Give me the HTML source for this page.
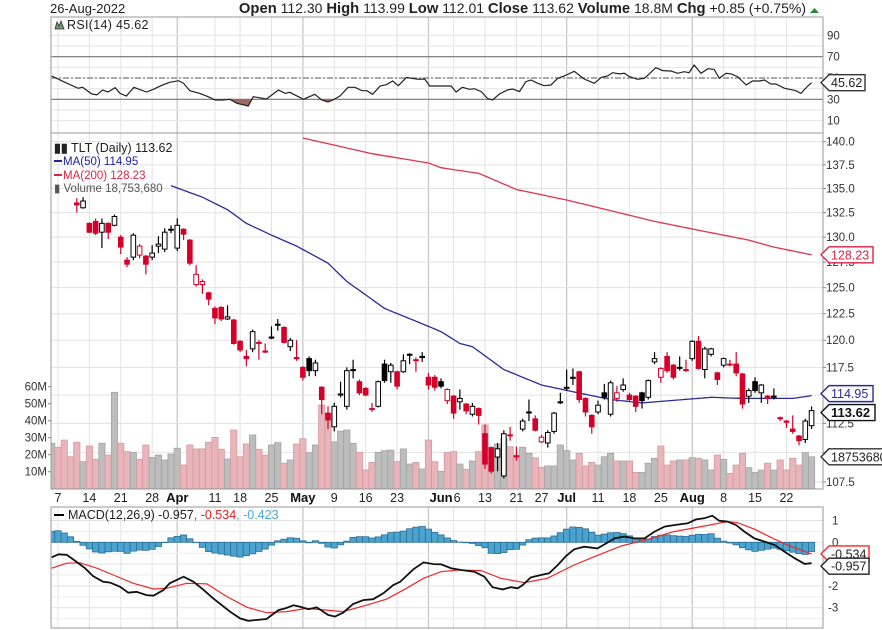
<!DOCTYPE html>
<html><head><meta charset="utf-8"><style>
body{margin:0;background:#fff;}
svg{display:block;font-family:"Liberation Sans",Arial,sans-serif;}
</style></head><body>
<svg id="chart" width="882" height="630" viewBox="0 0 882 630" xmlns="http://www.w3.org/2000/svg">
<rect x="0" y="0" width="882" height="630" fill="#fff"/>
<g id="grid"></g>
<g id="vol"></g>
<g id="price"></g>
<g id="rsi"></g>
<g id="macd"></g>
<g id="axes"></g>
<text x="50" y="13" font-size="13" fill="#222">26-Aug-2022</text>
<text x="806" y="13" font-size="14" text-anchor="end" fill="#222"><tspan font-weight="bold" font-size="14.8">Open</tspan> 112.30  <tspan font-weight="bold" font-size="14.8">High</tspan> 113.99  <tspan font-weight="bold" font-size="14.8">Low</tspan> 112.01  <tspan font-weight="bold" font-size="14.8">Close</tspan> 113.62  <tspan font-weight="bold" font-size="14.8">Volume</tspan> 18.8M  <tspan font-weight="bold" font-size="14.8">Chg</tspan> +0.85 (+0.75%)</text>
<polygon points="810,13 819,13 814.5,8" fill="#2a8a3a"/>
<g>
<path d="M55,29 L57,22 L59,26 L61,21 L64,29 Z" fill="#6a9a6a" stroke="#333" stroke-width="0.8"/>
<text x="67" y="29" font-size="12.5" fill="#222" letter-spacing="0.3">RSI(14) 45.62</text>
</g>
<g>
<text x="54" y="152" font-size="12.5" fill="#222"><tspan font-weight="bold">▮▮</tspan> TLT (Daily) 113.62</text>
<line x1="54" y1="161" x2="62" y2="161" stroke="#22229a" stroke-width="2"/>
<text x="63" y="165" font-size="11.5" fill="#22229a">MA(50) 114.95</text>
<line x1="54" y1="175" x2="62" y2="175" stroke="#dd2244" stroke-width="2"/>
<text x="63" y="179" font-size="11.5" fill="#dd2244">MA(200) 128.23</text>
<text x="54" y="192" font-size="11.5" fill="#555">▮ Volume 18,753,680</text>
</g>
<g>
<line x1="54" y1="515" x2="64" y2="515" stroke="#000" stroke-width="2"/>
<text x="68" y="519" font-size="12.5" fill="#222">MACD(12,26,9) -0.957<tspan fill="#e02020">, -0.534</tspan><tspan fill="#4aa8d8">, -0.423</tspan></text>
</g>
</svg>
<script>
// ---------- DATA ----------
const firstDayIndex = -4;
const opens = [133.5,133.0,131.4,131.6,130.5,131.4,131.2,130.0,127.7,128.0,
128.2,128.1,128.0,129.1,128.8,130.7,128.9,130.8,129.7,125.3,
125.3,124.5,123.0,123.1,122.0,121.9,119.9,118.5,119.2,119.8,
119.0,120.2,121.5,121.2,119.4,118.4,117.5,118.3,117.2,115.7,
113.4,112.2,115.0,114.0,117.3,116.2,115.6,113.8,114.0,117.8,
117.1,117.1,117.1,118.7,118.2,118.5,116.6,116.6,116.2,114.5,
114.9,114.4,114.2,113.3,113.8,111.6,110.4,109.6,108.0,111.5,
109.7,112.0,113.5,112.9,110.9,110.8,111.8,114.4,115.6,116.5,
117.1,114.7,113.2,113.5,115.2,113.3,114.7,115.5,115.0,114.9,
115.2,114.8,118.0,116.6,118.5,117.7,117.5,117.3,118.3,119.9,
117.3,118.7,117.0,117.7,117.8,117.8,116.9,114.9,116.2,115.2,
114.9,114.9,113.0,112.7,112.0,111.4,111.1,112.30];
const highs = [134.0,134.1,131.5,131.9,131.9,131.5,132.3,130.2,128.0,130.4,
129.3,128.2,129.2,130.1,130.9,131.2,131.9,130.9,129.8,127.2,
125.8,124.6,123.2,123.2,123.3,122.0,120.0,119.1,121.0,120.0,
119.7,121.3,122.0,121.3,120.2,120.0,117.6,118.5,118.2,115.8,
114.0,114.3,116.2,117.5,118.2,116.4,115.7,114.3,116.3,118.2,
117.9,117.2,118.7,118.8,118.4,118.9,117.0,116.8,116.5,115.6,
115.0,115.5,114.3,114.3,113.9,112.4,110.5,110.8,111.9,112.2,
110.5,112.9,114.6,113.2,111.5,111.9,113.5,115.2,117.3,117.4,
117.2,114.8,113.3,114.5,116.0,116.3,115.8,116.5,115.2,115.0,
115.3,116.4,118.9,117.5,118.9,117.8,118.5,118.2,120.0,120.4,
119.4,119.3,117.1,118.4,118.2,118.9,117.0,115.6,116.6,116.0,
115.0,115.6,113.1,112.8,113.2,111.5,112.9,113.99];
const lows = [132.5,132.9,130.4,130.2,128.9,129.8,131.1,128.3,127.0,127.7,
127.9,126.3,127.7,128.4,128.5,130.4,128.6,129.7,127.2,125.1,
124.4,123.3,121.5,121.8,121.9,119.6,118.9,117.6,118.9,118.2,
118.8,120.1,120.9,119.7,119.0,118.1,116.3,116.7,116.7,113.3,
112.0,111.8,114.8,113.7,116.5,115.0,114.9,113.5,113.9,116.1,
116.1,115.5,117.0,117.8,117.1,118.0,115.5,115.4,115.6,114.2,
112.9,113.7,113.3,113.1,112.4,108.6,108.2,108.4,107.8,111.0,
109.3,111.8,112.7,111.8,110.8,110.4,111.6,114.2,115.4,115.9,
114.3,113.1,111.6,113.3,114.6,113.1,114.4,115.3,114.4,113.5,
113.8,114.6,117.8,116.1,117.0,116.4,117.2,117.1,118.1,117.3,
116.5,118.5,115.9,117.5,117.6,116.7,113.8,114.3,115.2,114.3,
114.2,114.6,112.7,112.1,111.6,110.6,110.8,112.01];
const closes = [133.3,133.7,130.5,130.4,131.4,130.5,132.1,129.0,127.3,130.2,
129.1,127.3,128.4,129.3,130.5,130.8,131.2,130.3,127.4,126.3,
125.6,123.9,122.1,122.0,122.2,119.7,119.1,118.3,120.8,119.7,
118.9,120.3,121.5,119.8,120.0,118.3,116.6,117.2,117.9,114.6,
112.8,114.0,115.1,117.2,117.2,115.2,115.0,113.8,116.2,116.3,
117.7,115.8,118.1,118.7,118.2,118.4,115.9,115.7,115.8,115.5,
113.4,114.7,113.6,114.0,113.2,109.0,108.4,110.3,111.6,111.5,
109.7,112.7,113.5,111.9,111.3,111.7,113.4,114.4,115.7,116.6,
114.6,113.5,112.2,114.1,114.8,116.1,115.2,115.9,114.6,114.0,
114.5,116.3,118.3,117.4,117.2,116.6,117.5,117.2,119.9,117.4,
119.2,119.2,116.4,118.3,117.8,117.0,114.2,115.4,115.4,115.9,
114.7,114.9,112.9,112.6,111.8,111.0,112.7,113.62];
const prevClose0 = 134.5;
const preVolumes = [26.7,24.4,28.6,18.8];
const preVolDown = [0,1,1,1];
const volumes = [27.3,15.9,25.1,17.3,26.7,19.8,56.7,26.7,21.8,21.2,
17.3,25.7,18.4,19.8,16.9,20.4,23.8,13.9,25.7,23.4,
23.4,27.3,30.2,23.2,17.5,34.5,18.8,26.3,31.6,23.2,
19.8,25.7,27.1,15.0,16.9,26.3,29.4,21.2,25.7,49.2,
43.9,27.6,33.9,34.5,26.7,21.4,11.0,15.5,21.4,22.4,
22.7,15.9,23.4,14.5,15.5,11.6,28.6,15.9,10.2,21.2,
21.8,14.5,11.4,16.3,21.8,37.5,22.4,26.3,29.6,24.7,
19.8,24.4,20.8,18.2,12.6,13.4,13.4,25.7,22.4,16.9,
20.8,13.4,15.5,13.9,18.8,20.8,16.3,16.3,16.3,9.6,
9.6,15.0,17.9,25.1,13.9,16.3,16.9,16.9,18.2,17.9,
16.9,11.0,19.8,17.3,9.0,13.9,20.8,12.4,9.6,11.0,
15.0,11.0,16.9,11.0,17.9,13.9,21.2,18.75];
const ma50Idx = [15,20,24,27,31,35,40,43,49,56,58,61,63,68,74,79,85,90,101,106,114,117];
const ma50Val = [135.3,134.1,132.8,131.4,130.2,129.1,127.4,125.6,123.0,121.3,120.8,119.7,119.4,117.3,115.9,115.3,114.6,114.3,114.8,114.7,114.7,114.95];
const ma200Idx = [36,47,56,58,64,70,78,85,92,99,107,111,117];
const ma200Val = [140.4,138.7,137.7,137.2,136.6,134.9,133.8,132.7,131.6,130.7,129.7,129.0,128.23];
const rsiIdx = [-4,-2.1,0.2,0.9,2.4,3.2,4.1,5.0,6.1,6.9,7.9,9.1,11.1,12.2,13.5,14.8,16.2,17.0,18.0,19.6,20.9,22.0,23.3,24.4,25.5,27.3,28.1,30.2,32.1,33.2,33.9,36.1,37.9,39.0,40.0,40.8,41.9,43.2,44.3,45.4,46.2,47.1,48.3,49.3,50.3,51.2,52.5,53.3,54.4,55.4,56.2,58.0,59.6,60.4,61.4,62.5,63.3,64.4,65.4,66.2,67.3,68.6,69.4,70.5,71.5,72.3,73.4,74.4,75.5,76.6,77.6,79.2,80.8,82.4,83.5,84.5,85.3,86.4,87.2,88.0,89.3,90.4,92.2,93.3,94.6,95.7,96.7,97.5,98.3,99.4,100.5,101.5,102.3,103.4,104.2,105.2,106.6,107.6,108.7,109.5,110.5,111.3,112.7,113.5,114.5,115.3,116.4,117];
const rsiVal = [51.9,46.5,40.3,41.3,35.0,34.1,38.7,36.9,40.9,35.6,33.1,41.3,36.9,39.4,43.1,46.0,47.5,45.0,38.1,35.6,32.5,29.4,29.4,30.0,26.3,23.7,32.5,30.3,38.7,35.6,36.6,30.0,34.7,29.4,27.5,29.4,33.1,41.3,41.3,38.1,38.1,34.7,42.5,43.7,47.2,42.8,50.6,49.7,48.8,49.1,42.5,42.5,42.5,36.9,41.3,39.4,40.0,37.2,30.9,29.4,35.0,38.7,39.7,37.2,46.5,48.1,45.0,42.8,43.4,49.7,51.9,56.3,49.1,45.0,50.6,51.9,55.0,53.8,54.4,51.3,48.8,49.7,59.7,56.9,56.6,54.4,55.9,55.0,62.2,54.4,58.7,58.1,49.7,54.4,53.8,51.3,43.4,47.2,47.2,48.1,44.4,44.4,40.3,39.4,38.1,35.6,42.5,45.62];
const macdIdx = [-4,-2.9,-1.6,-0.3,1.3,2.6,4.2,5.3,6.9,8.2,9.5,11.1,12.2,13.8,14.8,17.0,18.6,20.1,21.7,24.4,26.0,27.3,30.2,32.1,33.2,34.5,35.5,36.9,38.2,40.0,41.1,42.4,44.0,45.6,47.2,48.8,50.4,51.5,53.6,55.2,56.8,58.0,59.6,61.2,63.3,64.9,66.2,67.8,69.1,70.2,71.0,72.3,73.9,75.2,76.6,77.9,79.2,80.8,82.9,84.3,85.6,87.2,88.8,90.4,92.0,93.6,95.1,97.3,98.6,99.9,101.2,102.3,103.6,105.0,106.3,107.9,109.5,111.1,112.7,114.3,115.9,117];
const macdVal = [-0.69,-0.55,-0.58,-0.84,-1.19,-1.55,-1.81,-1.85,-2.04,-2.31,-2.27,-2.42,-2.45,-2.19,-1.88,-1.58,-1.81,-2.16,-2.57,-3.18,-3.49,-3.60,-3.52,-3.11,-3.03,-2.89,-2.95,-3.07,-2.98,-3.33,-3.41,-3.23,-2.83,-2.65,-2.61,-2.34,-1.96,-1.81,-1.24,-0.92,-1.00,-1.01,-1.19,-1.27,-1.35,-1.58,-2.06,-2.16,-2.06,-2.11,-1.96,-1.61,-1.50,-1.42,-1.04,-0.63,-0.32,-0.20,-0.28,-0.05,0.18,0.26,0.18,0.18,0.49,0.72,0.79,0.87,1.05,1.10,1.22,0.99,0.95,0.79,0.49,0.18,0.03,-0.12,-0.43,-0.73,-0.99,-0.957];
const sigIdx = [-4,-1.6,0.5,3.2,5.8,9.0,12.2,14.3,17.5,20.7,23.9,27.1,30.2,33.4,36.6,39.8,42.4,46.2,49.3,52.5,55.2,58.0,60.7,64.4,67.5,71.3,74.9,79.2,82.4,86.7,91.0,95.1,99.4,103.6,105.2,107.9,111.1,113.8,117];
const sigVal = [-1.19,-0.96,-0.94,-1.19,-1.50,-1.88,-2.14,-2.11,-1.88,-1.91,-2.49,-2.98,-3.23,-3.18,-3.03,-3.11,-3.18,-2.88,-2.61,-2.11,-1.65,-1.35,-1.27,-1.30,-1.65,-1.85,-1.65,-1.04,-0.66,-0.17,0.14,0.49,0.72,0.95,0.90,0.60,0.14,-0.20,-0.534];
const priceTicks = [140.0,137.5,135.0,132.5,130.0,127.5,125.0,122.5,120.0,117.5,115.0,112.5,110.0,107.5];
const volTicks = [10,20,30,40,50,60];
const rsiTicks = [90,70,50,30,10];
const macdTicks = [1,0,-1,-2,-3];
const dayTickIdx = [-3,2,7,12,22,26,31,41,46,51,60,65,70,74,83,88,93,103,108,113];
const dayTickText = ["7","14","21","28","11","18","25","9","16","23","6","13","21","27","11","18","25","8","15","22"];
const monthTickIdx = [16,36,56.3,78,98];
const monthTickText = ["Apr","May","Jun","Jul","Aug"];

// ---------- SCALES ----------
const L=51, R=823;
const x = i => 76.8 + i*6.28;
const py = p => 141.7 + 1288*Math.log(140/p);
const vy = v => 488.7 - v*1.7;
const ry = r => 78 - (r-50)*1.066;
const my = v => 542.3 - v*21.8;
const NS="http://www.w3.org/2000/svg";
function mk(parent, tag, attrs){const e=document.createElementNS(NS,tag);for(const k in attrs)e.setAttribute(k,attrs[k]);parent.appendChild(e);return e;}
function interp(ix, vv, i){ if(i<=ix[0])return vv[0]; for(let k=1;k<ix.length;k++){ if(i<=ix[k]){const t=(i-ix[k-1])/(ix[k]-ix[k-1]);return vv[k-1]+t*(vv[k]-vv[k-1]);} } return vv[vv.length-1]; }
const G=id=>document.getElementById(id);
const svg=G('chart');

const defs=mk(svg,'defs',{});
const c1=mk(defs,'clipPath',{id:'cp-price'}); mk(c1,'rect',{x:L,y:133,width:R-L,height:356});
const c2=mk(defs,'clipPath',{id:'cp-rsi'}); mk(c2,'rect',{x:L,y:17,width:R-L,height:116});
const c3=mk(defs,'clipPath',{id:'cp-rsi30'}); mk(c3,'rect',{x:L,y:ry(30),width:R-L,height:40});
const c4=mk(defs,'clipPath',{id:'cp-macd'}); mk(c4,'rect',{x:L,y:507,width:R-L,height:121});

// ---------- GRID ----------
const grid=G('grid');
for(const [j,i] of dayTickIdx.entries()){
  for(const [y1,y2] of [[17,133],[133,489],[507,628]]){
    const ln=mk(grid,'line',{x1:x(i),x2:x(i),y1:y1,y2:y2,stroke:'#e2e2e2','stroke-width':1});
    
    
  }
}
for(const i of monthTickIdx){
  for(const [y1,y2] of [[17,133],[133,489],[507,628]]){
    const ln=mk(grid,'line',{x1:x(Math.floor(i)),x2:x(Math.floor(i)),y1:y1,y2:y2,stroke:'#c8c8c8','stroke-width':1.3});
    
    
  }
}
for(const p of priceTicks){ const ln=mk(grid,'line',{x1:L,x2:R,y1:py(p),y2:py(p),stroke:'#e2e2e2'});
    }
for(let r=10;r<=90;r+=10){ const ln=mk(grid,'line',{x1:L,x2:R,y1:ry(r),y2:ry(r),stroke:'#e6e6e6'});
    }
for(const v of macdTicks){ const ln=mk(grid,'line',{x1:L,x2:R,y1:my(v),y2:my(v),stroke:'#e2e2e2'});
    }
for(let v=-3.5;v<=1;v+=1){ mk(grid,'line',{x1:L,x2:R,y1:my(v),y2:my(v),stroke:'#eeeeee'}); }

// ---------- VOLUME ----------
const vol=G('vol'); vol.setAttribute('clip-path','url(#cp-price)');
const allVol=preVolumes.concat(volumes);
for(let k=0;k<allVol.length;k++){
  const i=k+firstDayIndex;
  let down;
  if(i<0) down=preVolDown[k]; else { const pc=i===0?prevClose0:closes[i-1]; down=closes[i]<pc; }
  const b=mk(vol,'rect',{x:x(i)-3.14,y:vy(allVol[k]),width:6.28,height:488.7-vy(allVol[k]),fill:down?'#e8b6ba':'#bdbdbd',stroke:down?'#d49aa0':'#a4a4a4','stroke-width':0.8});
  
  
}

// ---------- MAs ----------
const price=G('price'); price.setAttribute('clip-path','url(#cp-price)');
function maPath(ix,vv){let d='';for(let i=ix[0];i<=ix[ix.length-1];i+=0.5){d+=(d?'L':'M')+x(i).toFixed(1)+','+py(interp(ix,vv,i)).toFixed(1);}return d;}
const m200=mk(price,'path',{d:maPath(ma200Idx,ma200Val),fill:'none',stroke:'#e0344e','stroke-width':1.3});
 
const m50=mk(price,'path',{d:maPath(ma50Idx,ma50Val),fill:'none',stroke:'#2a2a9a','stroke-width':1.3});
 

// ---------- CANDLES ----------
for(let i=0;i<closes.length;i++){
  const pc=i===0?prevClose0:closes[i-1];
  const col=closes[i]<pc?'#d4002a':'#000';
  const filled=closes[i]<opens[i];
  const g=mk(price,'g',{});
  
  
  mk(g,'line',{x1:x(i),x2:x(i),y1:py(highs[i]),y2:py(lows[i]),stroke:col,'stroke-width':1.2});
  const top=py(Math.max(opens[i],closes[i])), bot=py(Math.min(opens[i],closes[i]));
  mk(g,'rect',{x:x(i)-2.3,y:top,width:4.6,height:Math.max(bot-top,1),fill:filled?col:'#fff',stroke:col,'stroke-width':1});
}

// ---------- RSI ----------
const rsi=G('rsi'); rsi.setAttribute('clip-path','url(#cp-rsi)');
for(const [r,st,dash] of [[70,'#777',''],[30,'#777',''],[50,'#777','6,2,2,2']]){
  const ln=mk(rsi,'line',{x1:L,x2:R,y1:ry(r),y2:ry(r),stroke:st,'stroke-width':1.2,'stroke-dasharray':dash||'none'});
   
}
let rd='';for(let k=0;k<rsiIdx.length;k++) rd+=(k?'L':'M')+x(rsiIdx[k]).toFixed(1)+','+ry(rsiVal[k]).toFixed(1);
const rf=mk(rsi,'path',{d:rd+'L'+x(117)+','+ry(30)+'L'+x(rsiIdx[0])+','+ry(30)+'Z',fill:'#a06a64','clip-path':'url(#cp-rsi30)'});
 
const rl=mk(rsi,'path',{d:rd,fill:'none',stroke:'#222','stroke-width':1.2});
 

// ---------- MACD ----------
const macd=G('macd'); macd.setAttribute('clip-path','url(#cp-macd)');
for(let i=firstDayIndex;i<=117;i++){
  const h=interp(macdIdx,macdVal,i)-interp(sigIdx,sigVal,i);
  const b=mk(macd,'rect',{x:x(i)-3.14,y:Math.min(my(0),my(h)),width:6.28,height:Math.abs(my(h)-my(0)),fill:'#4ba3d0',stroke:'#2c6f94','stroke-width':0.8});
   
}
let sd='';for(let k=0;k<sigIdx.length;k++) sd+=(k?'L':'M')+x(sigIdx[k]).toFixed(1)+','+my(sigVal[k]).toFixed(1);
const sl=mk(macd,'path',{d:sd,fill:'none',stroke:'#f02828','stroke-width':1.2});
 
let md='';for(let k=0;k<macdIdx.length;k++) md+=(k?'L':'M')+x(macdIdx[k]).toFixed(1)+','+my(macdVal[k]).toFixed(1);
const ml=mk(macd,'path',{d:md,fill:'none',stroke:'#111','stroke-width':1.8});
 

// ---------- AXES / FRAMES / LABELS ----------
const ax=G('axes');
for(const [y1,h] of [[17,116],[133,356],[507,121]]){
  const f=mk(ax,'rect',{x:L,y:y1,width:R-L,height:h,fill:'none',stroke:'#9a9a9a','stroke-width':1});
   
}
function txt(s,xx,yy,attrs,name){const t=mk(ax,'text',Object.assign({x:xx,y:yy,'font-size':11.5,fill:'#333'},attrs||{}));t.textContent=s;
    return t;}
for(const p of priceTicks){ txt(p.toFixed(1),826,py(p)+4,{},'price-tick-label'); mk(ax,'line',{x1:R,x2:R+3,y1:py(p),y2:py(p),stroke:'#888'}); }
for(const v of volTicks){ txt(v+'M',47,vy(v)+4,{'text-anchor':'end'},'volume-tick-label'); mk(ax,'line',{x1:L-3,x2:L,y1:vy(v),y2:vy(v),stroke:'#888'}); }
for(const r of rsiTicks){ txt(String(r),827,ry(r)+4,{},'rsi-tick-label'); }
for(const v of macdTicks){ txt(String(v),v<0?828:832,my(v)+4,{},'macd-tick-label'); }
for(let k=0;k<dayTickIdx.length;k++){ txt(dayTickText[k],x(dayTickIdx[k]),502,{'text-anchor':dayTickText[k]==='6'?'start':'middle','font-size':12.5,fill:'#222'},'date-tick-label'); }
for(let k=0;k<monthTickIdx.length;k++){ const xx=monthTickText[k]==='Jun'?x(60)-1:x(monthTickIdx[k]);
  txt(monthTickText[k],xx,502,{'text-anchor':monthTickText[k]==='Jun'?'end':'middle','font-size':13,'font-weight':'bold',fill:'#111'},'month-tick-label'); }

function tag(v, yy, color, textColor, bold, w, name){
  const g=mk(ax,'g',{});  
  mk(g,'path',{d:`M${R-2},${yy} L${R+6},${yy-8} L${R+6+w},${yy-8} L${R+6+w},${yy+8} L${R+6},${yy+8} Z`,fill:'#fff',stroke:color,'stroke-width':1.4});
  const t=mk(g,'text',{x:R+8,y:yy+4.5,'font-size':bold?13:12.5,'font-weight':bold?'bold':'normal',fill:textColor}); t.textContent=v;
}
tag('128.23',py(128.23),'#dd2244','#dd2244',false,44,'ma200-value-tag');
tag('114.95',py(114.95)-2,'#2a2a9a','#2a2a9a',false,44,'ma50-value-tag');
tag('113.62',py(113.62)+2,'#111','#111',true,46,'close-value-tag');
tag('18753680',vy(18.75),'#333','#222',false,60,'volume-value-tag');
tag('45.62',ry(45.62),'#333','#222',false,36,'rsi-value-tag');
tag('-0.534',my(-0.534),'#f02828','#222',false,40,'signal-value-tag');
tag('-0.957',my(-0.957)+3,'#222','#222',false,40,'macd-value-tag');
</script>
</body></html>
